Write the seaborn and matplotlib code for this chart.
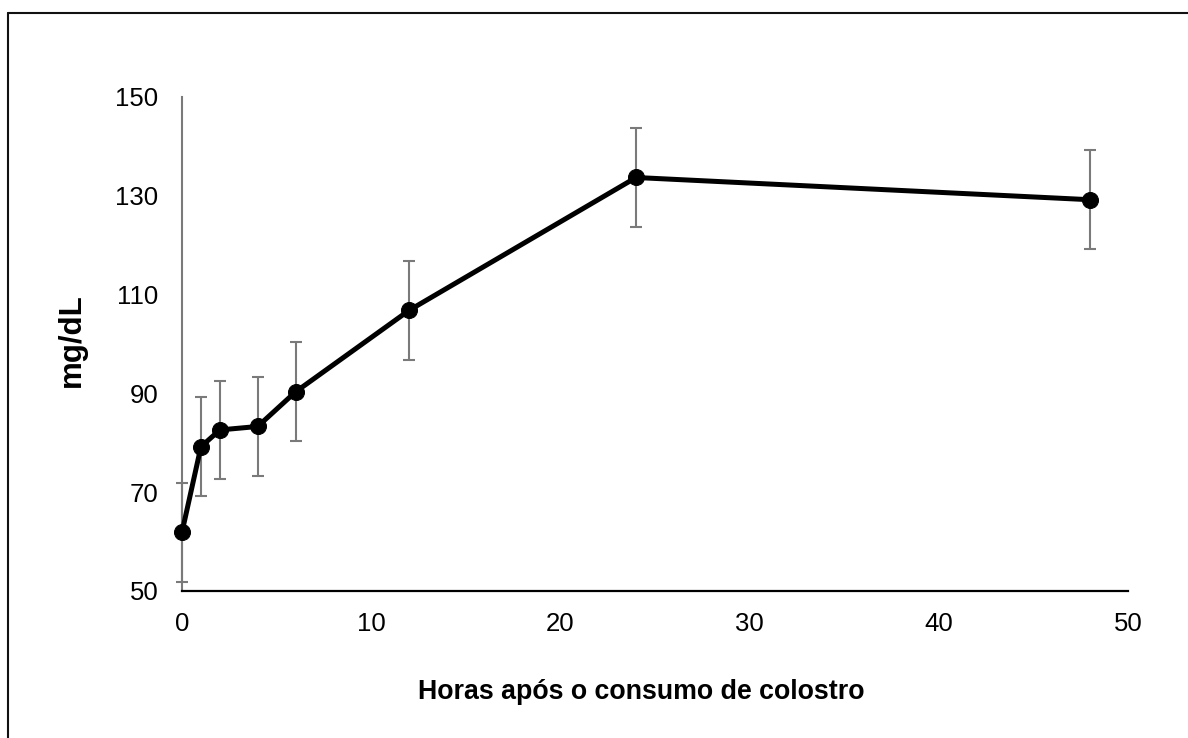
import matplotlib
matplotlib.use("Agg")
import matplotlib.pyplot as plt
from matplotlib.lines import Line2D
import seaborn as sns
import pandas as pd

# Serum values over time after colostrum intake
hours = [0, 1, 2, 4, 6, 12, 24, 48]
mg_dl = [61.9, 79.2, 82.6, 83.3, 90.3, 106.8, 133.7, 129.2]
error = [10, 10, 10, 10, 10, 10, 10, 10]

x_ticks = [0, 10, 20, 30, 40, 50]
y_ticks = [50, 70, 90, 110, 130, 150]

sns.set_theme(style="white")
plt.rcParams["font.family"] = ["Liberation Sans", "DejaVu Sans"]
plt.rcParams["text.color"] = "black"

fig = plt.figure(figsize=(11.88, 7.38), dpi=100)
ax = fig.add_axes([0.1532, 0.1992, 0.7963, 0.6694])

df = pd.DataFrame({"hours": hours, "mg_dl": mg_dl})

ax.errorbar(hours, mg_dl, yerr=error, fmt="none", ecolor="#7a7a7a",
            elinewidth=1.5, capsize=4.2, capthick=1.5, zorder=2, clip_on=False)
sns.lineplot(data=df, x="hours", y="mg_dl", ax=ax, color="black",
             linewidth=3.6, marker="o", markersize=11.5,
             markeredgecolor="black", zorder=3, clip_on=False)

ax.set_xlim(0, 50)
ax.set_ylim(50, 150)
ax.set_xticks(x_ticks)
ax.set_yticks(y_ticks)
ax.tick_params(axis="both", length=0, labelsize=18.5, colors="black",
               labelcolor="black")
ax.tick_params(axis="y", pad=17)
ax.tick_params(axis="x", pad=15)

for side in ("top", "right"):
    ax.spines[side].set_visible(False)
ax.spines["bottom"].set_color("black")
ax.spines["bottom"].set_linewidth(1.6)
ax.spines["left"].set_color("#7a7a7a")
ax.spines["left"].set_linewidth(1.5)

ax.set_xlabel("")
ax.set_ylabel("")
fig.text(641 / 1188, 1 - 692 / 738, "Horas após o consumo de colostro",
         ha="center", va="center", fontsize=19.3, fontweight="bold",
         color="black")
fig.text(72 / 1188, 1 - 340 / 738, "mg/dL", rotation=90,
         ha="center", va="center", fontsize=22.5, fontweight="bold",
         color="black")

# Outer frame (left and top edges fall inside the canvas)
fig.add_artist(Line2D([8 / 1188, 8 / 1188], [0, 1 - 13 / 738],
                      transform=fig.transFigure, color="#111111", linewidth=1.5))
fig.add_artist(Line2D([8 / 1188, 1], [1 - 13 / 738, 1 - 13 / 738],
                      transform=fig.transFigure, color="#111111", linewidth=1.5))

fig.savefig("out.png", dpi=100, facecolor="white")
